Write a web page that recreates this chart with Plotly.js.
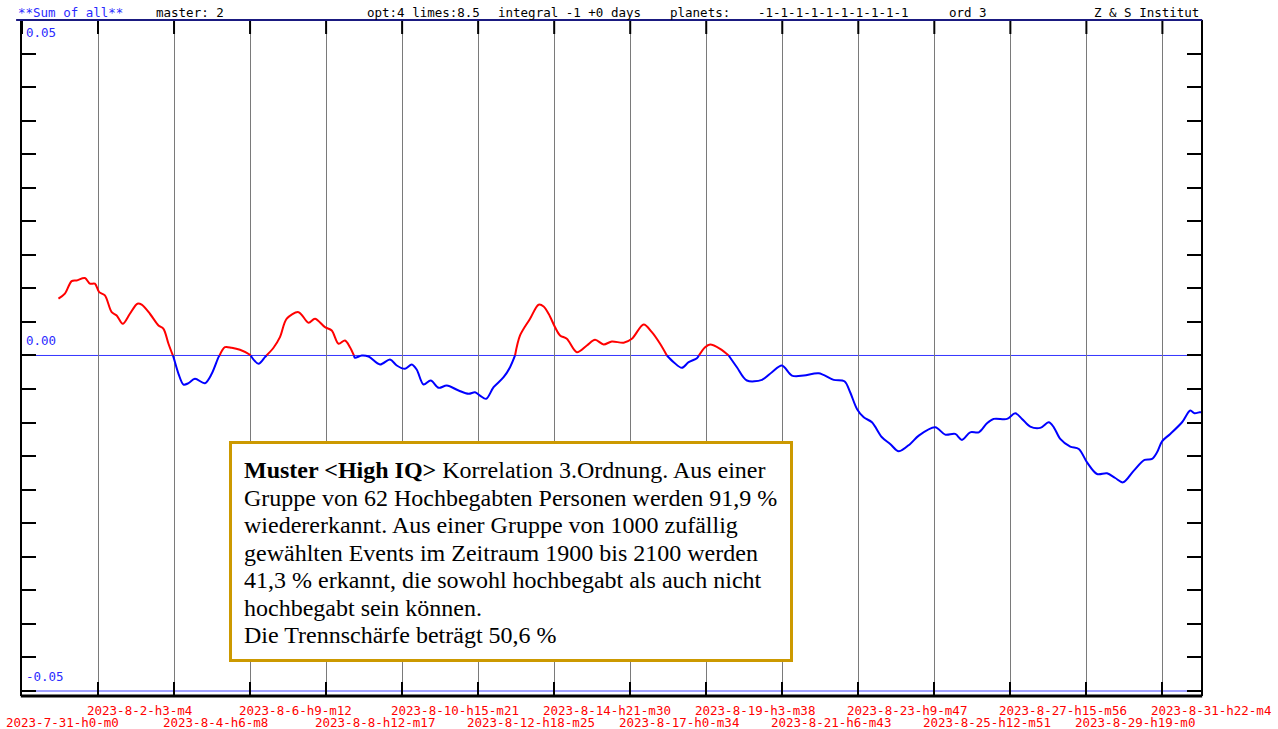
<!DOCTYPE html>
<html>
<head>
<meta charset="utf-8">
<script src="https://cdn.plot.ly/plotly-3.0.1.min.js"></script>
<style>
html,body{margin:0;padding:0;background:#fff;}
#chart{width:1278px;height:729px;}
</style>
</head>
<body>
<div id="chart"></div>
<script>
// ---- data (days since 2023-7-31 h0 m0, value) ----
const days = [1.02,1.20,1.39,1.53,1.76,1.90,2.04,2.16,2.32,2.51,
2.65,2.82,3.02,3.23,3.35,3.58,3.82,3.96,4.10,4.24,
4.38,4.52,4.66,4.84,5.12,5.31,5.50,5.68,5.87,6.10,
6.38,6.62,6.80,7.04,7.22,7.41,7.74,8.02,8.20,8.48,
8.67,8.86,9.04,9.18,9.32,9.51,9.70,10.02,10.30,10.49,
10.72,10.91,11.05,11.24,11.44,11.66,11.89,12.22,12.50,12.68,
12.82,12.99,13.20,13.48,13.66,13.80,13.94,14.22,14.46,14.60,
14.74,14.92,15.06,15.25,15.53,15.81,16.04,16.28,16.51,16.84,
17.07,17.40,17.63,17.86,18.05,18.24,18.47,18.66,18.89,19.12,
19.26,19.54,19.78,20.01,20.29,20.71,20.99,21.27,21.55,21.88,
22.30,22.72,23.02,23.18,23.37,23.56,23.79,24.07,24.30,24.54,
24.86,25.10,25.56,25.84,26.12,26.31,26.54,26.78,27.01,27.20,
27.57,27.80,27.99,28.22,28.50,28.74,28.88,29.06,29.34,29.58,
29.81,30.09,30.37,30.60,30.82,31.12,31.42,31.63,31.77,31.91,
32.14,32.47,32.70,32.82,32.96,33.00];

const values = [0.00846,0.00921,0.01109,0.01119,0.01154,0.01070,0.01070,0.00945,0.00896,0.00646,
0.00597,0.00473,0.00622,0.00772,0.00757,0.00622,0.00448,0.00398,0.00175,-0.00025,
-0.00273,-0.00433,-0.00413,-0.00348,-0.00413,-0.00273,-0.00025,0.00124,0.00115,0.00085,
0.0001,-0.00124,-0.00025,0.00115,0.00273,0.00548,0.00646,0.00488,0.00548,0.00422,
0.00373,0.00175,0.00224,0.00124,-0.00034,0,-0.00015,-0.00134,-0.0006,-0.00149,
-0.00199,-0.00134,-0.00213,-0.00433,-0.00373,-0.00482,-0.00448,-0.00522,-0.00572,-0.00548,
-0.00597,-0.00646,-0.00473,-0.00324,-0.00175,0,0.00299,0.00548,0.00757,0.00731,
0.00622,0.00422,0.00299,0.00249,0.00049,0.00149,0.00234,0.00164,0.00209,0.0019,
0.00249,0.00463,0.00348,0.00175,0,-0.001,-0.00184,-0.001,-0.0004,0.00124,
0.00164,0.001,0,-0.00175,-0.00373,-0.00363,-0.00249,-0.00149,-0.00299,-0.00299,
-0.00264,-0.00363,-0.00384,-0.00548,-0.00796,-0.00921,-0.00995,-0.01219,-0.01318,-0.01428,
-0.01318,-0.01194,-0.0107,-0.01179,-0.01169,-0.01258,-0.01145,-0.01145,-0.0101,-0.00945,
-0.00945,-0.00861,-0.00945,-0.0106,-0.01079,-0.00995,-0.0107,-0.01243,-0.01358,-0.01393,
-0.01592,-0.01766,-0.01756,-0.01826,-0.01891,-0.01716,-0.01557,-0.01542,-0.01443,-0.01279,
-0.01169,-0.00995,-0.00821,-0.00861,-0.00846,-0.00846];

const tickLabels = ["2023-7-31-h0-m0","2023-8-2-h3-m4","2023-8-4-h6-m8","2023-8-6-h9-m12",
"2023-8-8-h12-m17","2023-8-10-h15-m21","2023-8-12-h18-m25","2023-8-14-h21-m30",
"2023-8-17-h0-m34","2023-8-19-h3-m38","2023-8-21-h6-m43","2023-8-23-h9-m47",
"2023-8-25-h12-m51","2023-8-27-h15-m56","2023-8-29-h19-m0","2023-8-31-h22-m4"];

const yLabels = ["0.05","0.00","-0.05"];
const yLabelValues = [0.05, 0, -0.05];

const headerTexts = ["**Sum of all**","master: 2","opt:4 limes:8.5","integral -1 +0 days","planets:","-1-1-1-1-1-1-1-1-1-1","ord 3","Z & S Institut"];

const boxLines = [
"<b>Muster &lt;High IQ&gt;</b> Korrelation 3.Ordnung. Aus einer",
"Gruppe von 62 Hochbegabten Personen werden 91,9 %",
"wiedererkannt. Aus einer Gruppe von 1000 zufällig",
"gewählten Events im Zeitraum 1900 bis 2100 werden",
"41,3 % erkannt, die sowohl hochbegabt als auch nicht",
"hochbegabt sein können.",
"Die Trennschärfe beträgt 50,6 %"];

// ---- derived ----
function labelToDays(s){
  const m = s.match(/(\d+)-(\d+)-(\d+)-h(\d+)-m(\d+)/);
  const t = Date.UTC(+m[1], +m[2]-1, +m[3], +m[4], +m[5]);
  return (t - Date.UTC(2023,6,31,0,0)) / 86400000;
}
const tickPos = tickLabels.map(labelToDays);

// split into positive (red) and negative (blue) parts
const xs=[], redY=[], blueY=[];
for(let i=0;i<days.length;i++){
  if(i>0){
    const a=values[i-1], b=values[i];
    if((a>0 && b<0)||(a<0 && b>0)){
      const xc = days[i-1] + (days[i]-days[i-1]) * (a/(a-b));
      xs.push(xc); redY.push(0); blueY.push(0);
    }
  }
  const v=values[i];
  xs.push(days[i]);
  redY.push(v>=0 ? v : null);
  blueY.push(v<=0 ? v : null);
}

const mono = "DejaVu Sans Mono, monospace";
const traces = [
  {x:xs, y:redY, type:'scatter', mode:'lines', line:{color:'#ff0000', width:2, shape:'spline', smoothing:0.9}, connectgaps:false, hoverinfo:'skip'},
  {x:xs, y:blueY, type:'scatter', mode:'lines', line:{color:'#0000ff', width:2, shape:'spline', smoothing:0.9}, connectgaps:false, hoverinfo:'skip'}
];

// plot geometry in px (for paper-referenced layout items)
const L=22, T=20, W=1179, H=676;
const px2x = p => (p-L)/W;
const px2y = p => (T+H-p)/H;

const annotations = [];
// header
const headerX = [17,155,366,497,669,757,948,1093];
const headerColors = ['#2b2bff','#000','#000','#000','#000','#000','#000','#000'];
headerTexts.forEach((t,i)=>{
  annotations.push({xref:'paper', yref:'paper', x:0, y:1, xanchor:'left', yanchor:'bottom',
    xshift: headerX[i]-23, yshift:-2, text:t, showarrow:false,
    font:{family:mono, size:12.5, color:headerColors[i]}});
});
// y labels
yLabels.forEach((t,i)=>{
  const top = i===0;
  annotations.push({xref:'paper', yref:'y', x:0, y:yLabelValues[i], xanchor:'left',
    yanchor: top ? 'top' : 'bottom', xshift: 2, yshift: top ? -3 : 5,
    text:t, showarrow:false, font:{family:mono, size:12.5, color:'#2b2bff'}});
});
// x labels (staggered in two rows)
tickLabels.forEach((t,i)=>{
  annotations.push({xref:'x', yref:'paper', x:tickPos[i], y:0, xanchor:'left', yanchor:'top',
    xshift: i===0 ? -17 : -12, yshift: (i%2===1) ? -7 : -19,
    height:12, borderpad:0, valign:'middle',
    text:t, showarrow:false, font:{family:mono, size:12.5, color:'#ff0000'}});
});
// text box lines
boxLines.forEach((t,i)=>{
  annotations.push({xref:'paper', yref:'paper', x:px2x(242), y:px2y(470 + 27.5*i),
    xanchor:'left', yanchor:'middle', text:t, showarrow:false, align:'left',
    font:{family:'Liberation Serif, Times New Roman, serif', size:24, color:'#000'}});
});

// top-side x ticks (mirrored inside ticks)
const topTicks = tickPos.map(p => ({type:'line', xref:'x', yref:'paper', x0:p, x1:p, y0:1, y1:1-14/H,
  line:{color:'#000', width:2}, layer:'above'}));

const layout = {
  width:1278, height:729,
  margin:{l:22, r:77, t:20, b:33, pad:0},
  paper_bgcolor:'#fff', plot_bgcolor:'#fff',
  showlegend:false,
  xaxis:{range:[0,33], tickmode:'array', tickvals:tickPos, showticklabels:false,
    ticks:'inside', ticklen:14, tickwidth:2, tickcolor:'#000',
    showgrid:true, gridcolor:'#7a7a7a', gridwidth:1,
    showline:false, mirror:false, zeroline:false, fixedrange:true},
  yaxis:{range:[-0.05075,0.05], tick0:0, dtick:0.005, showticklabels:false,
    ticks:'inside', ticklen:14, tickwidth:2, tickcolor:'#000',
    showgrid:false, showline:true, linecolor:'#000', linewidth:2, mirror:'ticks',
    zeroline:false, fixedrange:true},
  shapes:[
    {type:'line', xref:'paper', yref:'y', x0:0, x1:1, y0:0, y1:0, line:{color:'#3535ff', width:1}, layer:'below'},
    {type:'line', xref:'paper', yref:'y', x0:0, x1:1, y0:-0.05, y1:-0.05, line:{color:'#8080ff', width:1.5}, layer:'below'},
    ...topTicks,
    {type:'line', xref:'paper', yref:'paper', x0:-0.001, x1:1.001, y0:0, y1:0, line:{color:'#000000', width:3}, layer:'above'},
    {type:'line', xref:'paper', yref:'paper', x0:-0.005, x1:1.001, y0:1, y1:1, line:{color:'#1a1a80', width:2}, layer:'above'},
    {type:'rect', xref:'paper', yref:'paper', x0:px2x(230.5), x1:px2x(791.5), y0:px2y(660.5), y1:px2y(442.5),
      line:{color:'#cc9900', width:3}, fillcolor:'#ffffff', layer:'above'}
  ],
  annotations:annotations
};

Plotly.newPlot('chart', traces, layout, {staticPlot:true, displayModeBar:false});
</script>
</body>
</html>
